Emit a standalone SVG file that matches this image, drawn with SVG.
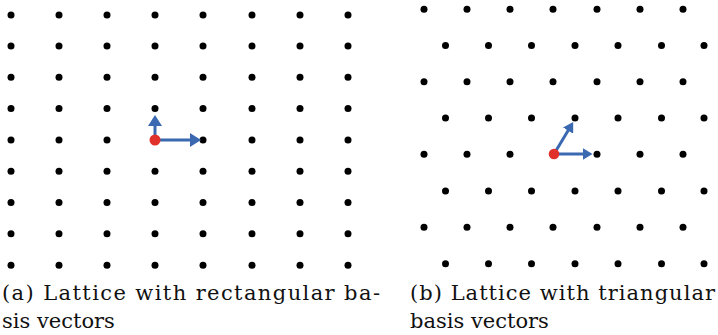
<svg xmlns="http://www.w3.org/2000/svg" xmlns:xlink="http://www.w3.org/1999/xlink" width="718" height="335" viewBox="0 0 718 335">
<style>
.dot{fill:#000}
.origin{fill:#E0312B}
.vec{stroke:#3B69B1;stroke-width:3;fill:none}
.cap{font-family:"DejaVu Serif","Liberation Serif",serif;font-size:21px;fill:#111}
</style>
<defs>
<circle id="d" r="3.5" class="dot"/>
<marker id="ah" markerUnits="userSpaceOnUse" viewBox="0 0 11 14" markerWidth="11" markerHeight="14" refX="0.5" refY="7" orient="auto"><path d="M0,0 L11,7 L0,14 z" fill="#3B69B1"/></marker>
<marker id="ah2" markerUnits="userSpaceOnUse" viewBox="0 0 10 12" markerWidth="10" markerHeight="12" refX="0.5" refY="6" orient="auto"><path d="M0,0 L10,6 L0,12 z" fill="#3B69B1"/></marker>
</defs>
<rect width="718" height="335" fill="#fff"/>
<g id="lattice-rect">
<g id="rect-row0"><use xlink:href="#d" x="11" y="15"/><use xlink:href="#d" x="59" y="15"/><use xlink:href="#d" x="107" y="15"/><use xlink:href="#d" x="155" y="15"/><use xlink:href="#d" x="203" y="15"/><use xlink:href="#d" x="252" y="15"/><use xlink:href="#d" x="300" y="15"/><use xlink:href="#d" x="348" y="15"/></g>
<g id="rect-row1"><use xlink:href="#d" x="11" y="46"/><use xlink:href="#d" x="59" y="46"/><use xlink:href="#d" x="107" y="46"/><use xlink:href="#d" x="155" y="46"/><use xlink:href="#d" x="203" y="46"/><use xlink:href="#d" x="252" y="46"/><use xlink:href="#d" x="300" y="46"/><use xlink:href="#d" x="348" y="46"/></g>
<g id="rect-row2"><use xlink:href="#d" x="11" y="77.3"/><use xlink:href="#d" x="59" y="77.3"/><use xlink:href="#d" x="107" y="77.3"/><use xlink:href="#d" x="155" y="77.3"/><use xlink:href="#d" x="203" y="77.3"/><use xlink:href="#d" x="252" y="77.3"/><use xlink:href="#d" x="300" y="77.3"/><use xlink:href="#d" x="348" y="77.3"/></g>
<g id="rect-row3"><use xlink:href="#d" x="11" y="108.5"/><use xlink:href="#d" x="59" y="108.5"/><use xlink:href="#d" x="107" y="108.5"/><use xlink:href="#d" x="155" y="108.5"/><use xlink:href="#d" x="203" y="108.5"/><use xlink:href="#d" x="252" y="108.5"/><use xlink:href="#d" x="300" y="108.5"/><use xlink:href="#d" x="348" y="108.5"/></g>
<g id="rect-row4"><use xlink:href="#d" x="11" y="140"/><use xlink:href="#d" x="59" y="140"/><use xlink:href="#d" x="107" y="140"/><use xlink:href="#d" x="203" y="140"/><use xlink:href="#d" x="252" y="140"/><use xlink:href="#d" x="300" y="140"/><use xlink:href="#d" x="348" y="140"/></g>
<g id="rect-row5"><use xlink:href="#d" x="11" y="171.3"/><use xlink:href="#d" x="59" y="171.3"/><use xlink:href="#d" x="107" y="171.3"/><use xlink:href="#d" x="155" y="171.3"/><use xlink:href="#d" x="203" y="171.3"/><use xlink:href="#d" x="252" y="171.3"/><use xlink:href="#d" x="300" y="171.3"/><use xlink:href="#d" x="348" y="171.3"/></g>
<g id="rect-row6"><use xlink:href="#d" x="11" y="202.5"/><use xlink:href="#d" x="59" y="202.5"/><use xlink:href="#d" x="107" y="202.5"/><use xlink:href="#d" x="155" y="202.5"/><use xlink:href="#d" x="203" y="202.5"/><use xlink:href="#d" x="252" y="202.5"/><use xlink:href="#d" x="300" y="202.5"/><use xlink:href="#d" x="348" y="202.5"/></g>
<g id="rect-row7"><use xlink:href="#d" x="11" y="233.8"/><use xlink:href="#d" x="59" y="233.8"/><use xlink:href="#d" x="107" y="233.8"/><use xlink:href="#d" x="155" y="233.8"/><use xlink:href="#d" x="203" y="233.8"/><use xlink:href="#d" x="252" y="233.8"/><use xlink:href="#d" x="300" y="233.8"/><use xlink:href="#d" x="348" y="233.8"/></g>
<g id="rect-row8"><use xlink:href="#d" x="11" y="265.3"/><use xlink:href="#d" x="59" y="265.3"/><use xlink:href="#d" x="107" y="265.3"/><use xlink:href="#d" x="155" y="265.3"/><use xlink:href="#d" x="203" y="265.3"/><use xlink:href="#d" x="252" y="265.3"/><use xlink:href="#d" x="300" y="265.3"/><use xlink:href="#d" x="348" y="265.3"/></g>
</g>
<g id="lattice-tri">
<g id="tri-row0"><use xlink:href="#d" x="424" y="9.3"/><use xlink:href="#d" x="467" y="9.3"/><use xlink:href="#d" x="510" y="9.3"/><use xlink:href="#d" x="553" y="9.3"/><use xlink:href="#d" x="597" y="9.3"/><use xlink:href="#d" x="640" y="9.3"/><use xlink:href="#d" x="683" y="9.3"/></g>
<g id="tri-row1"><use xlink:href="#d" x="445.5" y="45.5"/><use xlink:href="#d" x="488.5" y="45.5"/><use xlink:href="#d" x="531.5" y="45.5"/><use xlink:href="#d" x="575" y="45.5"/><use xlink:href="#d" x="618" y="45.5"/><use xlink:href="#d" x="661.5" y="45.5"/><use xlink:href="#d" x="704" y="45.5"/></g>
<g id="tri-row2"><use xlink:href="#d" x="424" y="81.8"/><use xlink:href="#d" x="467" y="81.8"/><use xlink:href="#d" x="510" y="81.8"/><use xlink:href="#d" x="553" y="81.8"/><use xlink:href="#d" x="597" y="81.8"/><use xlink:href="#d" x="640" y="81.8"/><use xlink:href="#d" x="683" y="81.8"/></g>
<g id="tri-row3"><use xlink:href="#d" x="445.5" y="118"/><use xlink:href="#d" x="488.5" y="118"/><use xlink:href="#d" x="531.5" y="118"/><use xlink:href="#d" x="575" y="118"/><use xlink:href="#d" x="618" y="118"/><use xlink:href="#d" x="661.5" y="118"/><use xlink:href="#d" x="704" y="118"/></g>
<g id="tri-row4"><use xlink:href="#d" x="424" y="154.3"/><use xlink:href="#d" x="467" y="154.3"/><use xlink:href="#d" x="510" y="154.3"/><use xlink:href="#d" x="597" y="154.3"/><use xlink:href="#d" x="640" y="154.3"/><use xlink:href="#d" x="683" y="154.3"/></g>
<g id="tri-row5"><use xlink:href="#d" x="445.5" y="191"/><use xlink:href="#d" x="488.5" y="191"/><use xlink:href="#d" x="531.5" y="191"/><use xlink:href="#d" x="575" y="191"/><use xlink:href="#d" x="618" y="191"/><use xlink:href="#d" x="661.5" y="191"/><use xlink:href="#d" x="704" y="191"/></g>
<g id="tri-row6"><use xlink:href="#d" x="424" y="227.3"/><use xlink:href="#d" x="467" y="227.3"/><use xlink:href="#d" x="510" y="227.3"/><use xlink:href="#d" x="553" y="227.3"/><use xlink:href="#d" x="597" y="227.3"/><use xlink:href="#d" x="640" y="227.3"/><use xlink:href="#d" x="683" y="227.3"/></g>
<g id="tri-row7"><use xlink:href="#d" x="445.5" y="263.7"/><use xlink:href="#d" x="488.5" y="263.7"/><use xlink:href="#d" x="531.5" y="263.7"/><use xlink:href="#d" x="575" y="263.7"/><use xlink:href="#d" x="618" y="263.7"/><use xlink:href="#d" x="661.5" y="263.7"/><use xlink:href="#d" x="704" y="263.7"/></g>
</g>
<g id="connectors">
<line class="vec" x1="155" y1="140" x2="155" y2="125.5" marker-end="url(#ah)"/>
<line class="vec" x1="155" y1="140" x2="190.5" y2="140" marker-end="url(#ah)"/>
<line class="vec" x1="554" y1="154" x2="583" y2="154" marker-end="url(#ah2)"/>
<line class="vec" x1="554" y1="154" x2="568.3" y2="130.2" marker-end="url(#ah2)"/>
</g>
<g id="origin-rect"><circle class="origin" cx="155" cy="140" r="5.5"/></g>
<g id="origin-tri"><circle class="origin" cx="554" cy="154" r="5.3"/></g>
<g id="caption-a">
<text class="cap" x="2" y="300" textLength="378" lengthAdjust="spacing">(a) Lattice with rectangular ba-</text>
<text class="cap" x="2" y="328">sis vectors</text>
</g>
<g id="caption-b">
<text class="cap" x="410" y="300" textLength="305" lengthAdjust="spacing">(b) Lattice with triangular</text>
<text class="cap" x="410" y="328">basis vectors</text>
</g>
</svg>
